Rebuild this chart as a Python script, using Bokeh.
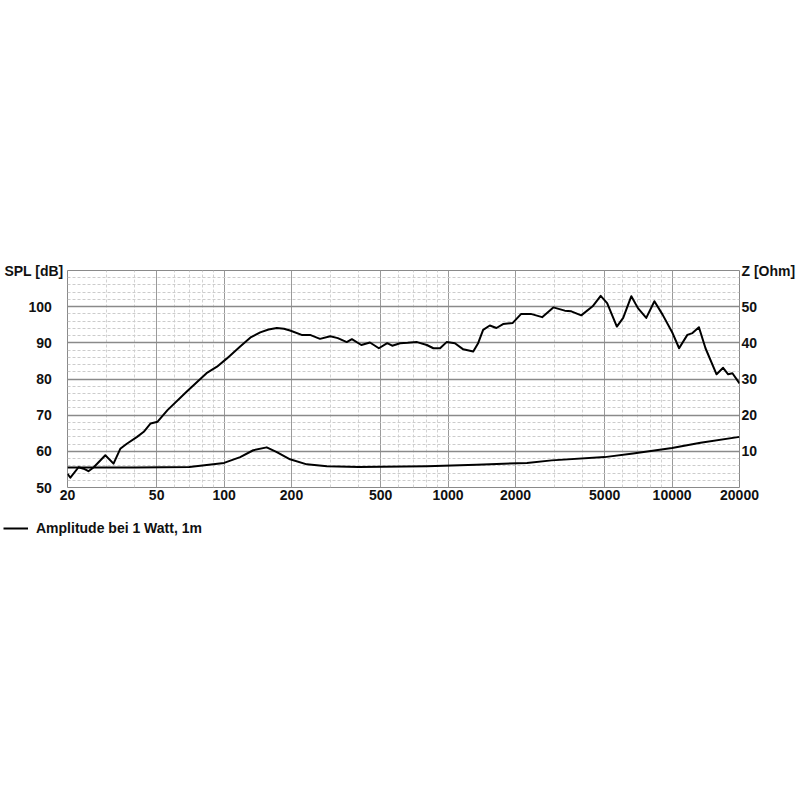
from bokeh.plotting import figure
from bokeh.models import (Range1d, LinearAxis, FixedTicker, Legend, LegendItem)
from bokeh.layouts import column, row
from bokeh.embed import file_html
from bokeh.resources import INLINE

# SPL response (dB), left axis
spl_freq = [20, 20.6, 22.4, 23.6, 24.8, 26.2, 29.5, 32.1, 34.4, 36.8, 40.9, 43.8, 47.0,
            50.5, 55.9, 68.0, 83.5, 93, 103, 118, 132, 145, 158, 172, 185, 197, 222,
            242, 268, 298, 322, 353, 372, 410, 448, 491, 535, 563, 611, 660, 727, 804,
            860, 921, 985, 1073, 1169, 1295, 1362, 1434, 1536, 1644, 1760, 1945, 2120,
            2340, 2630, 2950, 3320, 3550, 3930, 4420, 4800, 5130, 5670, 6050, 6580,
            7040, 7670, 8340, 9070, 10050, 10750, 11700, 12330, 13180, 14100, 15800,
            16900, 17800, 18600, 20000]
spl_db = [53.8, 52.7, 55.6, 55.2, 54.5, 55.6, 58.9, 56.6, 60.7, 62.1, 64.0, 65.4, 67.7,
          68.2, 71.4, 76.5, 81.6, 83.4, 85.7, 89.0, 91.6, 92.9, 93.7, 94.1, 93.9, 93.4, 92.2,
          92.2, 91.1, 91.8, 91.3, 90.2, 91.0, 89.4, 90.1, 88.5, 89.9, 89.2, 89.9, 90.0, 90.2, 89.4,
          88.5, 88.5, 90.2, 89.9, 88.2, 87.6, 89.9, 93.6, 94.8, 94.1, 95.2, 95.5, 98.0,
          98.0, 97.1, 99.8, 98.9, 98.7, 97.6, 100.1, 103.0, 101.0, 94.5, 96.9, 102.9,
          99.6, 96.9, 101.5, 97.8, 92.7, 88.5, 92.2, 92.7, 94.3, 88.5, 81.3,
          83.1, 81.3, 81.6, 78.8]

# Impedance (Ohm), right axis
z_freq = [20, 40, 70, 100, 118, 135, 155, 172, 197, 234, 288, 400, 804, 1340,
          2250, 2900, 5000, 6700, 10000, 13400, 20000]
z_ohm = [5.5, 5.5, 5.7, 6.8, 8.4, 10.3, 11.1, 9.8, 7.8, 6.4, 5.9, 5.7, 5.9, 6.3,
         6.8, 7.5, 8.4, 9.4, 10.9, 12.4, 14.0]

x_ticks = [20, 50, 100, 200, 500, 1000, 2000, 5000, 10000, 20000]
x_minor = [30, 40, 60, 70, 80, 90, 300, 400, 600, 700, 800, 900,
           3000, 4000, 6000, 7000, 8000, 9000]
y_ticks = [50, 60, 70, 80, 90, 100, 110]
z_ticks = [10, 20, 30, 40, 50, 60]
spl_title = "SPL [dB]"
z_title = "Z [Ohm]"
legend_text = "Amplitude bei 1 Watt, 1m"
FONT = "Liberation Sans"
PAD = "\u00a0\u00a0\u00a0"

p = figure(width=798, height=509, x_axis_type="log",
           x_range=Range1d(20, 20000), y_range=Range1d(50, 110),
           output_backend="svg", toolbar_location=None,
           min_border_left=67, min_border_right=58, min_border_top=270,
           min_border_bottom=22)
p.background_fill_color = "white"
p.border_fill_color = "white"
p.outline_line_color = "#8a8a8a"
p.outline_line_width = 1

p.extra_y_ranges = {"z": Range1d(0, 60)}

minor_y = [v for v in range(50, 111, 2) if v % 10]

xa = p.xaxis[0]
xa.ticker = FixedTicker(ticks=x_ticks, minor_ticks=x_minor)
xa.major_label_overrides = {t: str(t) for t in x_ticks}
xa.major_label_standoff = 2

ya = p.yaxis[0]
ya.ticker = FixedTicker(ticks=y_ticks, minor_ticks=minor_y)
ya.major_label_overrides = {t: (str(t) + PAD if t < 110 else spl_title) for t in y_ticks}
ya.major_label_standoff = 4

zaxis = LinearAxis(y_range_name="z", ticker=FixedTicker(ticks=z_ticks))
zaxis.major_label_overrides = {60: z_title}
zaxis.major_label_standoff = 2
p.add_layout(zaxis, "right")

for ax in [xa, ya, zaxis]:
    ax.axis_line_color = None
    ax.major_tick_line_color = None
    ax.minor_tick_line_color = None
    ax.major_tick_out = 0
    ax.major_tick_in = 0
    ax.minor_tick_out = 0
    ax.minor_tick_in = 0
    ax.major_label_text_font = FONT
    ax.major_label_text_font_style = "bold"
    ax.major_label_text_font_size = "14px"
    ax.major_label_text_color = "#111111"

p.xgrid.ticker = FixedTicker(ticks=x_ticks, minor_ticks=x_minor)
p.xgrid.grid_line_color = "#9a9a9a"
p.xgrid.grid_line_width = 1
p.xgrid.minor_grid_line_color = "#d2d2d2"
p.xgrid.minor_grid_line_dash = "3 2"
p.ygrid.ticker = FixedTicker(ticks=y_ticks, minor_ticks=minor_y)
p.ygrid.grid_line_color = "#8a8a8a"
p.ygrid.grid_line_width = 1.5
p.ygrid.minor_grid_line_color = "#cccccc"
p.ygrid.minor_grid_line_dash = "3 2"

p.line(spl_freq, spl_db, line_color="black", line_width=2, line_join="round")
p.line(z_freq, z_ohm, line_color="black", line_width=2, line_join="round",
       y_range_name="z")

# legend strip below the chart
lf = figure(width=300, height=40, x_range=Range1d(0, 1), y_range=Range1d(0, 1),
            output_backend="svg", toolbar_location=None,
            x_axis_location=None, y_axis_location=None,
            min_border=0, outline_line_color=None)
lf.grid.visible = False
lf.background_fill_color = "white"
r_leg = lf.line([5, 6], [0.5, 0.5], line_color="black", line_width=2)
legend = Legend(items=[LegendItem(label=legend_text, renderers=[r_leg])],
                location=(3, 11), orientation="horizontal",
                border_line_color=None, background_fill_alpha=0,
                padding=0, margin=0, glyph_width=25, label_standoff=8,
                label_text_font=FONT, label_text_font_style="bold",
                label_text_font_size="14px", label_text_color="#111111")
lf.add_layout(legend, "center")

layout = column(p, row(lf), spacing=0)
open("out.html", "w").write(file_html(layout, INLINE))
